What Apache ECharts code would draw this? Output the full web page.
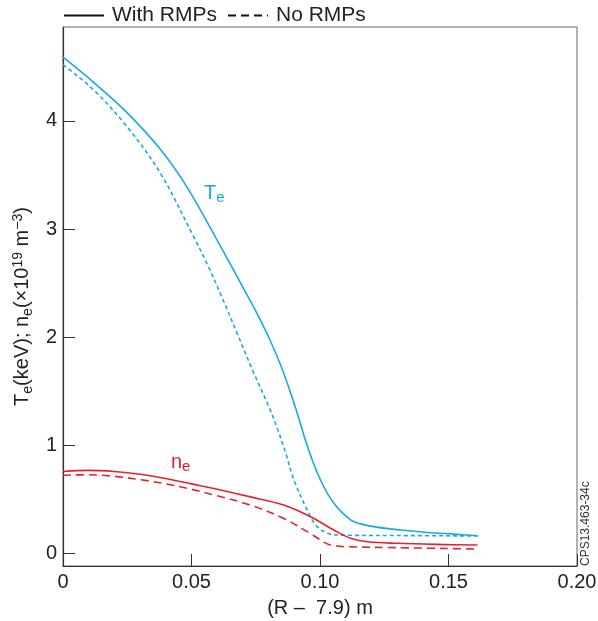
<!DOCTYPE html>
<html>
<head>
<meta charset="utf-8">
<title>Te and ne profiles</title>
<script src="https://cdn.jsdelivr.net/npm/echarts@6/dist/echarts.min.js"></script>
<style>
  html, body { margin: 0; padding: 0; background: #fff; }
  #main { width: 598px; height: 621px; }
</style>
</head>
<body>
<div id="main"></div>
<script>
// x positions: (R - 7.9) m
const teWithX = [0, 0.0118, 0.0248, 0.0378, 0.0482, 0.0599, 0.065, 0.070, 0.075, 0.080, 0.085, 0.090, 0.0956, 0.1002, 0.1054, 0.1119, 0.1158, 0.1220, 0.1314, 0.1420, 0.1520, 0.1613];
const teWithY = [4.59, 4.36, 4.08, 3.74, 3.39, 2.90, 2.68, 2.46, 2.24, 2.00, 1.72, 1.38, 0.954, 0.676, 0.46, 0.306, 0.27, 0.24, 0.213, 0.19, 0.175, 0.16];

const teNoX = [0, 0.0118, 0.0248, 0.0378, 0.0508, 0.056, 0.062, 0.068, 0.074, 0.080, 0.0833, 0.0866, 0.0898, 0.0956, 0.0989, 0.1041, 0.110, 0.130, 0.1613];
const teNoY = [4.52, 4.29, 3.95, 3.52, 2.93, 2.68, 2.36, 2.02, 1.68, 1.36, 1.16, 0.93, 0.68, 0.37, 0.244, 0.175, 0.165, 0.162, 0.158];

const neWithX = [0, 0.01, 0.02, 0.03, 0.04, 0.05, 0.06, 0.0729, 0.0859, 0.0963, 0.1054, 0.1119, 0.1184, 0.130, 0.145, 0.1613];
const neWithY = [0.755, 0.765, 0.755, 0.73, 0.69, 0.64, 0.59, 0.52, 0.444, 0.336, 0.213, 0.136, 0.105, 0.09, 0.08, 0.074];

const neNoX = [0, 0.01, 0.02, 0.03, 0.04, 0.05, 0.06, 0.0729, 0.0859, 0.0963, 0.1041, 0.1119, 0.130, 0.1613];
const neNoY = [0.72, 0.725, 0.71, 0.68, 0.64, 0.59, 0.53, 0.444, 0.32, 0.18, 0.074, 0.058, 0.05, 0.037];

const xTicks = [0, 0.05, 0.10, 0.15, 0.20];
const xTickLabels = ['0', '0.05', '0.10', '0.15', '0.20'];
const yTicks = [0, 1, 2, 3, 4];

const cyan = '#17a9e1';
const red = '#e5222b';
const font = 'Liberation Sans, Arial, Helvetica, sans-serif';

const zip = (xs, ys) => xs.map((x, i) => [x, ys[i]]);

const chart = echarts.init(document.getElementById('main'));

const option = {
  animation: false,
  textStyle: { fontFamily: font },
  grid: {
    left: 63, top: 27, right: 21, bottom: 55,
    outerBoundsMode: 'none',
    show: true, borderColor: '#666', borderWidth: 1
  },
  legend: {
    top: 5, left: 63, padding: 0,
    itemWidth: 40, itemHeight: 12, itemGap: 10,
    itemStyle: { opacity: 0 },
    textStyle: { fontSize: 21, color: '#222', fontFamily: font, padding: [0, 0, 0, 3] },
    data: ['With RMPs', 'No RMPs']
  },
  xAxis: {
    type: 'value', min: 0, max: 0.2, interval: 0.05,
    name: '(R \u2013  7.9) m', nameLocation: 'middle', nameGap: 32,
    nameTextStyle: { fontSize: 20, color: '#222' },
    axisLine: { onZero: false, lineStyle: { color: '#333', width: 1.2 } },
    axisTick: { inside: true, length: 12, lineStyle: { color: '#333' } },
    axisLabel: {
      fontSize: 20, color: '#222', margin: 6,
      formatter: v => xTickLabels[xTicks.findIndex(t => Math.abs(t - v) < 1e-9)] ?? ''
    },
    splitLine: { show: false }
  },
  yAxis: {
    type: 'value', min: -0.12, max: 4.87,
    name: 'T{sub|e}(keV); n{sub|e}(\u00d710{sup|19} m{sup|\u22123})',
    nameLocation: 'middle', nameGap: 20, nameRotate: 90,
    nameTextStyle: {
      fontSize: 20, color: '#222',
      padding: [0, 20, 0, 0],
      rich: {
        sub: { fontSize: 14, color: '#222', padding: [10, 0, 0, 0] },
        sup: { fontSize: 14, color: '#222', padding: [0, 0, 10, 0] }
      }
    },
    axisLine: { show: true, onZero: false, lineStyle: { color: '#333', width: 1.2 } },
    axisTick: { show: true, inside: true, length: 12, customValues: yTicks, lineStyle: { color: '#333' } },
    axisLabel: { fontSize: 20, color: '#222', margin: 6, customValues: yTicks },
    splitLine: { show: false }
  },
  series: [
    {
      name: 'With RMPs', type: 'line', data: [], symbol: 'none',
      itemStyle: { color: '#111' }, lineStyle: { color: '#111', width: 1.5 }
    },
    {
      name: 'No RMPs', type: 'line', data: [], symbol: 'none',
      itemStyle: { color: '#111' }, lineStyle: { color: '#111', width: 1.5, type: [8, 5] }
    },
    {
      name: 'Te with', type: 'line', data: zip(teWithX, teWithY), symbol: 'none', smooth: 0.35,
      lineStyle: { color: cyan, width: 1.6 }
    },
    {
      name: 'Te no', type: 'line', data: zip(teNoX, teNoY), symbol: 'none', smooth: 0.35,
      lineStyle: { color: cyan, width: 1.6, type: [4, 3] }
    },
    {
      name: 'ne with', type: 'line', data: zip(neWithX, neWithY), symbol: 'none', smooth: 0.35,
      lineStyle: { color: red, width: 1.6 }
    },
    {
      name: 'ne no', type: 'line', data: zip(neNoX, neNoY), symbol: 'none', smooth: 0.35,
      lineStyle: { color: red, width: 1.6, type: [8, 5] }
    }
  ],
  graphic: [
    {
      type: 'text', left: 204, top: 183,
      style: {
        text: 'T{s|e}', fill: cyan, font: '20px ' + font,
        rich: { s: { fontSize: 15, fill: cyan, padding: [10, 0, 0, 0] } }
      }
    },
    {
      type: 'text', left: 171, top: 452,
      style: {
        text: 'n{s|e}', fill: red, font: '20px ' + font,
        rich: { s: { fontSize: 15, fill: red, padding: [10, 0, 0, 0] } }
      }
    },
    {
      type: 'text', x: 580, y: 566, rotation: Math.PI / 2,
      style: { text: 'CPS13.463-34c', fill: '#333', font: '12px ' + font, align: 'left', verticalAlign: 'top' }
    }
  ]
};

chart.setOption(option);
</script>
</body>
</html>
